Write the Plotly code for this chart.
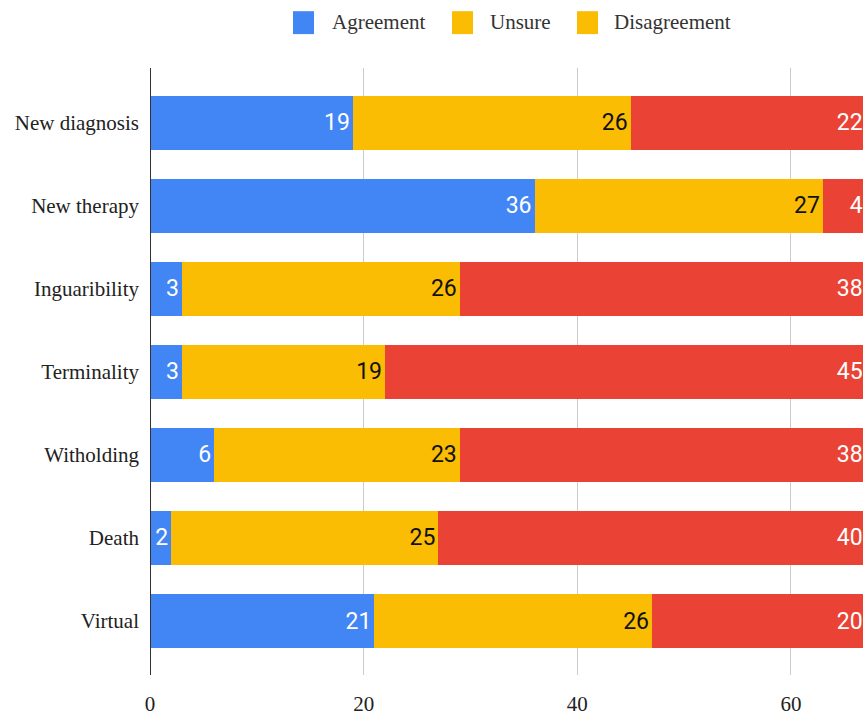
import plotly.graph_objects as go

categories = ["New diagnosis", "New therapy", "Inguaribility", "Terminality",
              "Witholding", "Death", "Virtual"]
agreement = [19, 36, 3, 3, 6, 2, 21]
unsure = [26, 27, 26, 19, 23, 25, 26]
disagreement = [22, 4, 38, 45, 38, 40, 20]
x_ticks = [0, 20, 40, 60]

BLUE = "#4285F4"
YELLOW = "#FBBC04"
RED = "#EA4335"

ypos = list(range(len(categories)))
val_font = dict(family="Roboto", size=23)

fig = go.Figure()

series = [
    ("Agreement", agreement, BLUE, "white"),
    ("Unsure", unsure, YELLOW, "#111111"),
    ("Disagreement", disagreement, RED, "white"),
]
for name, vals, color, tcolor in series:
    fig.add_trace(go.Bar(
        y=ypos, x=vals, orientation="h", name=name,
        marker=dict(color=color, line=dict(width=0)),
        text=[str(v) for v in vals], textposition="inside",
        insidetextanchor="end", textangle=0,
        textfont=dict(color=tcolor, **val_font),
        showlegend=False,
    ))

# Legend drawn by hand above the plot: swatch + label per series
# (the third swatch uses the yellow colour).
legend_items = [("Agreement", BLUE, 293, 330), ("Unsure", YELLOW, 452, 488),
                ("Disagreement", YELLOW, 577, 612)]
PLOT_L, PLOT_W, PLOT_B, PLOT_H = 150, 713, 677, 609
px = lambda v: (v - PLOT_L) / PLOT_W
py = lambda v: (PLOT_B - v) / PLOT_H
shapes = [dict(type="line", xref="x", yref="paper", x0=0, x1=0, y0=0, y1=1,
               line=dict(color="#333333", width=2))]
annotations = []
for name, color, sx, tx in legend_items:
    shapes.append(dict(type="rect", xref="paper", yref="paper",
                       x0=px(sx), x1=px(sx + 21), y0=py(34), y1=py(11),
                       fillcolor=color, line=dict(width=0), layer="above"))
    annotations.append(dict(text=name, xref="paper", yref="paper",
                            x=px(tx), y=py(22), xanchor="left", yanchor="middle",
                            showarrow=False,
                            font=dict(family="Liberation Serif", size=21,
                                      color="#333333")))

fig.update_layout(
    barmode="stack",
    bargap=0.35,
    width=863, height=716,
    margin=dict(l=150, r=0, t=68, b=39),
    paper_bgcolor="white", plot_bgcolor="white",
    font=dict(family="Liberation Serif", size=20, color="#222222"),
    showlegend=False,
    xaxis=dict(range=[0, 66.75], tickvals=x_ticks, showgrid=True,
               gridcolor="#cccccc", gridwidth=1, zeroline=False,
               showline=False, ticks="", tickfont=dict(size=21, color="#222222"),
               ticklabelstandoff=14),
    yaxis=dict(range=[6.65, -0.66], tickvals=ypos, ticktext=categories,
               showgrid=False, zeroline=False, showline=False, ticks="",
               tickfont=dict(size=21, color="#222222"), ticklabelstandoff=10),
    shapes=shapes,
    annotations=annotations,
)

fig.write_html("out.html")
